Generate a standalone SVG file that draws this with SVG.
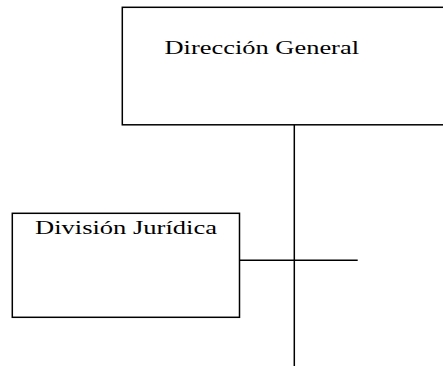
<svg xmlns="http://www.w3.org/2000/svg" width="443" height="366" viewBox="0 0 443 366">
  <style>
    .box { fill: #ffffff; stroke: #000000; stroke-width: 1.5; }
    .wire { stroke: #000000; stroke-width: 1.5; fill: none; }
    .label { font-family: "Liberation Serif", "Times New Roman", serif; font-size: 18.5px; fill: #000000; }
  </style>
  <rect width="443" height="366" fill="#ffffff"/>
  <g id="connectors">
    <line class="wire" x1="294.3" y1="125" x2="294.3" y2="366"/>
    <line class="wire" x1="240" y1="260.3" x2="357.7" y2="260.3"/>
  </g>
  <g id="direccion-general">
    <rect class="box" x="122.3" y="7.3" width="330" height="117.5"/>
    <text class="label" x="164.5" y="53.5" textLength="194.5" lengthAdjust="spacingAndGlyphs">Dirección General</text>
  </g>
  <g id="division-juridica">
    <rect class="box" x="12.3" y="213.3" width="227.2" height="104"/>
    <text class="label" x="35" y="233.7" textLength="182" lengthAdjust="spacingAndGlyphs">División Jurídica</text>
  </g>
</svg>
